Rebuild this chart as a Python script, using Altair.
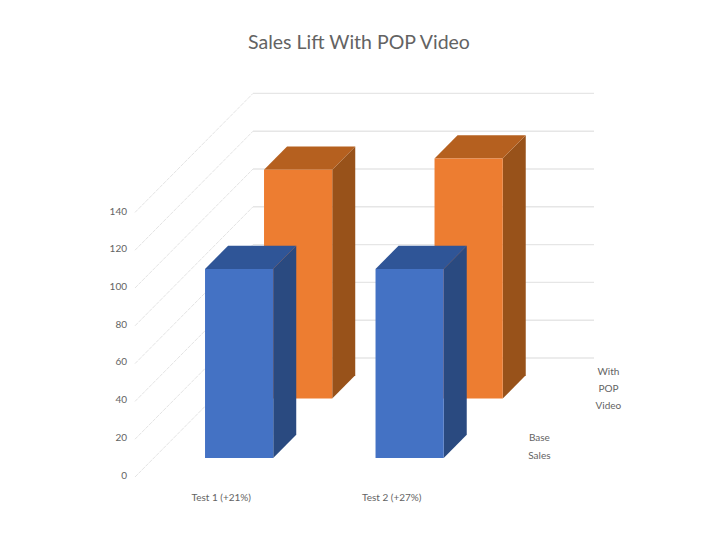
import altair as alt
import pandas as pd

# ---- values
categories = ["Test 1 (+21%)", "Test 2 (+27%)"]
base_sales = [100, 100]
with_video = [121, 127]
y_ticks = [0, 20, 40, 60, 80, 100, 120, 140]
series_names = [["Base", "Sales"], ["With", "POP", "Video"]]
title_text = "Sales Lift With POP Video"

# ---- oblique projection of (category units, depth, value) on to the page
W, H = 704, 524
X0, Y0 = 135, 477
PLOT_W, DEPTH_X, DEPTH_Y = 341, 118, 119
V_SCALE = 1.89
BAR_W = 0.4  # share of a category
BAR_D = 0.195  # share of the depth
SERIES_D = [0.16, 0.66]
FILLS = [("#4472C4", "#2F5597", "#2A4A80"), ("#ED7D31", "#B5601F", "#98521A")]
TEXT = "#636363"
FONT = "Lato"


def px(u, d):
    return X0 + u * PLOT_W / len(categories) + d * DEPTH_X


def py(v, d):
    return Y0 - v * V_SCALE - d * DEPTH_Y


x_enc = dict(scale=alt.Scale(domain=[8, 8 + W], nice=False, zero=False), axis=None)
y_enc = dict(scale=alt.Scale(domain=[8 + H, 8], nice=False, zero=False), axis=None)
X = alt.X("x:Q", **x_enc)
Y = alt.Y("y:Q", **y_enc)
X2, Y2 = alt.X2("x2:Q"), alt.Y2("y2:Q")

# ---- walls: one polyline per tick
grid = []
for v in y_ticks:
    grid += [
        {"v": v, "part": "side", "x": px(0, 0), "y": py(v, 0)},
        {"v": v, "part": "side", "x": px(0, 1), "y": py(v, 1)},
        {"v": v, "part": "back", "x": px(0, 1), "y": py(v, 1)},
        {"v": v, "part": "back", "x": px(len(categories), 1), "y": py(v, 1)},
    ]
grid = pd.DataFrame(grid)
grid["key"] = grid["part"] + grid["v"].astype(str)
layers = [
    alt.Chart(grid[grid.part == "side"]).mark_line(stroke="#E4E4E4", strokeWidth=1, strokeDash=[4, 1]).encode(x=X, y=Y, detail="key:N"),
    alt.Chart(grid[grid.part == "back"]).mark_line(stroke="#E6E6E6", strokeWidth=1.4).encode(x=X, y=Y, detail="key:N"),
]

# ---- bars, far series first
for s in (1, 0):
    values = [base_sales, with_video][s]
    d0, d1 = SERIES_D[s], SERIES_D[s] + BAR_D
    front_c, top_c, side_c = FILLS[s]
    for i, v in enumerate(values):
        u0 = i + 0.5 - BAR_W / 2
        u1 = i + 0.5 + BAR_W / 2
        side = pd.DataFrame({
            "x": [px(u1, d0), px(u1, d1)],
            "y": [py(v, d0), py(v, d1)],
            "y2": [py(0, d0), py(0, d1)],
        })
        top = pd.DataFrame({
            "y": [py(v, d0), py(v, d1)],
            "x": [px(u0, d0), px(u0, d1)],
            "x2": [px(u1, d0), px(u1, d1)],
        })
        front = pd.DataFrame({
            "x": [px(u0, d0)], "x2": [px(u1, d0)],
            "y": [py(v, d0)], "y2": [py(0, d0)],
        })
        layers += [
            alt.Chart(side).mark_area(color=side_c, orient="vertical").encode(x=X, y=alt.Y("y:Q", stack=None, **y_enc), y2=Y2),
            alt.Chart(top).mark_area(color=top_c, orient="horizontal").encode(y=Y, x=alt.X("x:Q", stack=None, **x_enc), x2=X2),
            alt.Chart(front).mark_rect(color=front_c).encode(x=X, x2=X2, y=Y, y2=Y2),
        ]

# ---- text
tick_labels = pd.DataFrame({"x": [X0 - 8] * len(y_ticks), "y": [py(v, 0) - 1.5 + v * 0.005 for v in y_ticks], "t": [str(v) for v in y_ticks]})
cat_labels = pd.DataFrame({"x": [px(i + 0.5, 0) + 1 for i in range(len(categories))], "y": [Y0 + 21] * len(categories), "t": categories})
name_rows = []
LABEL_SHIFT = [33, 43]
LABEL_DROP = [1, 2]
LINE_H = [18, 17]
for s, lines in enumerate(series_names):
    dc = SERIES_D[s] + BAR_D / 2
    for j, line in enumerate(lines):
        name_rows.append({
            "x": px(len(categories), dc) + LABEL_SHIFT[s],
            "y": py(0, dc) + LABEL_DROP[s] + (j - (len(lines) - 1) / 2) * LINE_H[s],
            "t": line,
        })
name_labels = pd.DataFrame(name_rows)
title_df = pd.DataFrame({"x": [359], "y": [43], "t": [title_text]})

text_kw = dict(font=FONT, color=TEXT, baseline="middle")
layers += [
    alt.Chart(tick_labels).mark_text(align="right", fontSize=10, **text_kw).encode(x=X, y=Y, text="t:N"),
    alt.Chart(cat_labels).mark_text(align="center", fontSize=10, **text_kw).encode(x=X, y=Y, text="t:N"),
    alt.Chart(name_labels).mark_text(align="center", fontSize=10, **text_kw).encode(x=X, y=Y, text="t:N"),
    alt.Chart(title_df).mark_text(align="center", fontSize=19.5, **text_kw).encode(x=X, y=Y, text="t:N"),
]

chart = (
    alt.layer(*layers)
    .properties(width=W, height=H, padding=0, autosize=alt.AutoSizeParams(type="none"), background="white")
    .configure_view(stroke=None)
)
chart.save("out.html", embed_options={"renderer": "svg", "actions": False})
